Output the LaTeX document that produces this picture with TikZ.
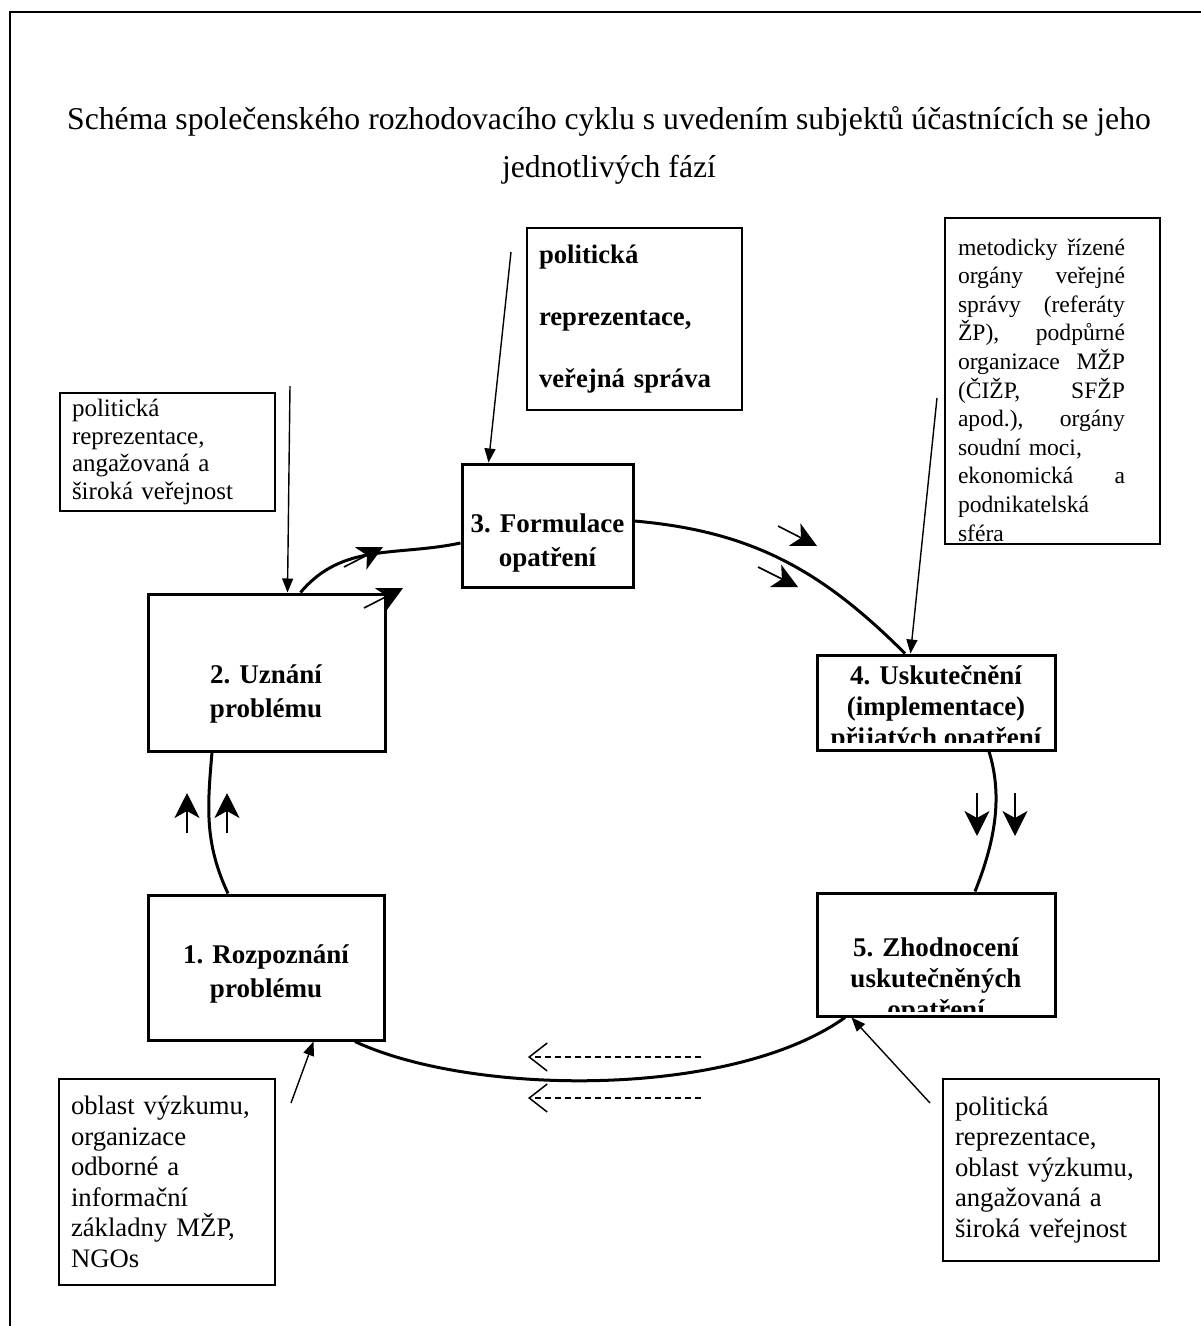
\documentclass[tikz,border=0pt]{standalone}
\usepackage{fontspec}
\setmainfont{Liberation Serif}
\usetikzlibrary{arrows.meta}

\newcommand{\jsp}{\hspace{0pt plus 1filll}}

\tikzset{
  phasebox/.style={draw, line width=3pt, inner sep=0pt},
  phasetext/.style={anchor=north, align=center, inner sep=0pt,
    font=\fontsize{27}{33.5}\selectfont\bfseries},
  actorbox/.style={draw, line width=1.6pt, inner xsep=12pt, inner ysep=0pt,
    align=left, font=\fontsize{26.7}{30.5}\selectfont},
  cyclearc/.style={line width=3pt},
  feed/.style={line width=1.4pt, -{Triangle[length=14pt,width=11pt]}},
  flow/.style={line width=1.6pt, -{Stealth[length=25pt,width=25pt,inset=7pt]}},
  back/.style={line width=1.5pt, dash pattern=on 6pt off 4pt,
    -{Straight Barb[length=18pt,width=28pt,line width=1.5pt]}}
}

\begin{document}
\begin{tikzpicture}[x=1pt,y=1pt]
\useasboundingbox (0,0) rectangle (1201,-1326);
% frame
\draw[line width=2pt] (10,-1326) -- (10,-12) -- (1201,-12);

\node[font=\fontsize{31.7}{48}\selectfont, align=center] (title) at (609,-145)
  {Schéma společenského rozhodovacího cyklu s uvedením subjektů účastnících se jeho\\jednotlivých fází};

% phases
\node[phasebox, minimum width=236pt, minimum height=145pt] (b1) at (266,-967.5) {};
\node[phasebox, minimum width=237pt, minimum height=157pt] (b2) at (266.5,-672.5) {};
\node[phasebox, minimum width=171pt, minimum height=123pt] (b3) at (547.5,-525.5) {};
\node[phasebox, minimum width=238pt, minimum height=95pt] (b4) at (936,-702.5) {};
\node[phasebox, minimum width=238pt, minimum height=123pt] (b5) at (936,-954.5) {};

\node[phasetext] (t1) at (266,-945) {1. Rozpoznání\\problému};
\node[phasetext] (t2) at (266,-665) {2. Uznání\\problému};
\node[phasetext] (t3) at (547.5,-514) {3. Formulace\\opatření};
\begin{scope}
  \clip (b4.north west) rectangle ([yshift=9pt]b4.south east);
  \node[phasetext, font=\fontsize{27}{31}\selectfont\bfseries] (t4) at (936,-665)
    {4. Uskutečnění\\(implementace)\\přijatých opatření};
\end{scope}
\begin{scope}
  \clip (b5.north west) rectangle ([yshift=6pt]b5.south east);
  \node[phasetext, font=\fontsize{27}{31}\selectfont\bfseries] (t5) at (936,-938)
    {5. Zhodnocení\\uskutečněných\\opatření};
\end{scope}

% actors
\node[actorbox, minimum width=215pt, minimum height=182pt, text width=191pt,
  font=\fontsize{26.7}{62}\selectfont\bfseries] (a3) at (634.5,-319)
  {politická\\reprezentace,\\veřejná správa};
\node[actorbox, minimum width=215pt, minimum height=118pt, text width=191pt,
  font=\fontsize{25}{27.7}\selectfont] (a2) at (167.5,-452)
  {politická\\reprezentace,\\angažovaná a\\široká veřejnost};
\node[actorbox, minimum width=215pt, minimum height=326pt, text width=189pt, inner xsep=13pt,
  font=\fontsize{23.6}{28.6}\selectfont] (a4) at (1052.5,-381)
  {\begin{minipage}{167pt}\vspace*{18pt}
   metodicky\jsp řízené\\ orgány\jsp veřejné\\ správy\jsp (referáty\\ ŽP),\jsp podpůrné\\
   organizace\jsp MŽP\\ (ČIŽP,\jsp SFŽP\\ apod.),\jsp orgány\\ soudní moci,\\
   ekonomická\jsp a\\ podnikatelská\\ sféra
   \end{minipage}};
\node[actorbox, minimum width=216pt, minimum height=206pt, text width=192pt] (a1) at (167,-1182)
  {oblast výzkumu,\\organizace\\odborné a\\informační\\základny MŽP,\\NGOs};
\node[actorbox, minimum width=216pt, minimum height=182pt, text width=192pt] (a5) at (1051,-1170)
  {politická\\reprezentace,\\oblast výzkumu,\\angažovaná a\\široká veřejnost};

% cycle
\draw[cyclearc] ([xshift=34pt]b2.north) to[out=50,in=192] ([yshift=-17.5pt]b3.west);
\draw[cyclearc] ([yshift=4.5pt]b3.east) to[out=-5,in=135] ([xshift=-31pt]b4.north);
\draw[cyclearc] ([xshift=53pt]b4.south) .. controls +(14,-45) and +(20,50) .. ([xshift=39pt]b5.north);
\draw[cyclearc] ([xshift=-91pt]b5.south) .. controls +(-115,-82) and +(115,-54) .. ([xshift=89pt]b1.south);
\draw[cyclearc] ([xshift=-38pt]b1.north) to[out=115,in=-95] ([xshift=-54.5pt]b2.south);

% actors to phases
\coordinate (f3) at (511,-252);
\coordinate (f2) at (290,-386);
\coordinate (f4) at (937,-398);
\coordinate (f1) at (291,-1103);
\coordinate (f5) at (930,-1103);
\draw[feed] (f3) -- ([xshift=28pt]b3.north west);
\draw[feed] (f2) -- ([xshift=141pt]b2.north west);
\draw[feed] (f4) -- ([xshift=95pt]b4.north west);
\draw[feed] (f1) -- ([xshift=167pt]b1.south west);
\draw[feed] (f5) -- ([xshift=36pt]b5.south west);

% direction arrows
\draw[flow] (187,-833) -- (187,-793);
\draw[flow] (227,-833) -- (227,-793);
\draw[flow] (344,-567) -- (383,-547);
\draw[flow] (364,-608) -- (403,-588);
\draw[flow] (778,-526) -- (817,-546);
\draw[flow] (758,-567) -- (798,-587);
\draw[flow] (977,-793) -- (977,-836);
\draw[flow] (1015,-793) -- (1015,-836);
\draw[back] (701,-1057) -- (528,-1057);
\draw[back] (701,-1098) -- (528,-1098);
\end{tikzpicture}
\end{document}
